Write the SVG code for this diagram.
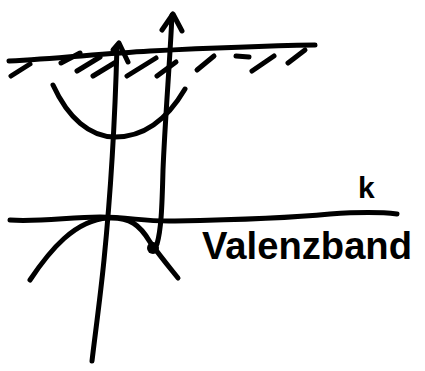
<svg xmlns="http://www.w3.org/2000/svg" width="425" height="371" viewBox="0 0 425 371">
<style>
.s{fill:none;stroke:#000;stroke-width:5;stroke-linecap:round;stroke-linejoin:round}
.t{font-family:"Liberation Sans",Arial,sans-serif;font-weight:bold;fill:#000}
</style>
<rect width="425" height="371" fill="#fff"/>
<g id="surface">
<path class="s" d="M9,61 C60,58 100,54 150,51 C210,48 260,46 315,45"/>
<path class="s" d="M11,76 L30,64 M61,63 L80,53 M77,71 L100,57 M93,76 L116,62 M127,76 L156,58 M157,76 L176,62 M197,70 L214,56 M236,56 L249,57 M252,71 L274,56 M288,63 L305,50"/>
</g>
<g id="conduction-band">
<path class="s" d="M53,85 C68,118 90,137 115,137 C145,137 168,118 185,89"/>
</g>
<g id="k-axis">
<path class="s" d="M10,220 C40,222 70,217 100,217 C130,217 145,222 175,221 C230,220 290,218 330,214 C360,212 380,212 397,214"/>
</g>
<g id="valence-band">
<path class="s" d="M30,280 C50,250 75,220 108,218 C130,217 140,225 150,242 C160,256 170,268 178,278"/>
</g>
<g id="connectors">
<path class="s" d="M117,46 C115,120 110,200 104,260 C100,300 95,335 92,361"/>
<path class="s" d="M113,50 L119,43 L128,62"/>
<path class="s" d="M172,15 C170,60 165,120 163,170 C162,210 161,230 157,244"/>
<path class="s" d="M162,30 L173,14 L182,31"/>
<circle cx="153" cy="248" r="6" fill="#000"/>
</g>
<g id="labels">
<text class="t" x="358" y="198" font-size="30">k</text>
<text class="t" x="202" y="259" font-size="38" textLength="210" lengthAdjust="spacingAndGlyphs">Valenzband</text>
</g>
</svg>
